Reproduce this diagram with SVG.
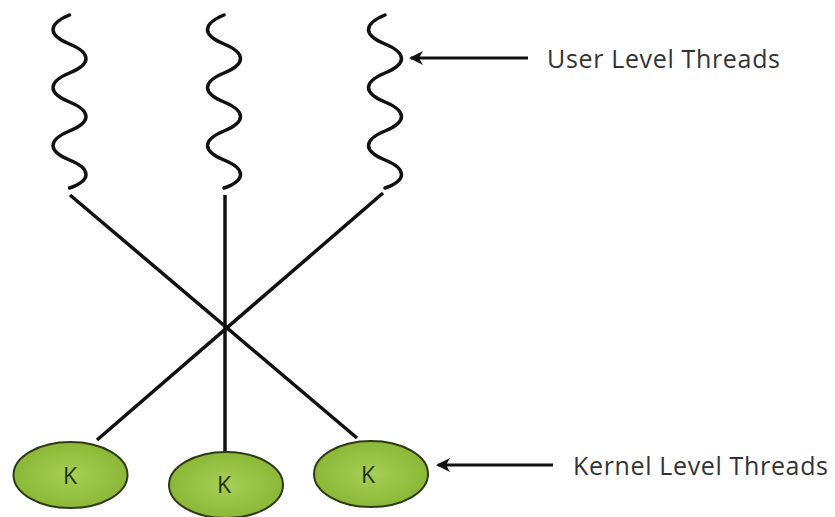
<svg xmlns="http://www.w3.org/2000/svg" xmlns:xlink="http://www.w3.org/1999/xlink" width="835" height="517" viewBox="0 0 835 517">
<style>
.wave{fill:none;stroke:#111;stroke-width:3.5;stroke-linecap:round}
.conn{stroke:#111;stroke-width:3.5;fill:none}
.arrow{stroke:#111;stroke-width:3;fill:none;marker-end:url(#ah)}
.k{fill:url(#kg);stroke:#2e3a16;stroke-width:2}
.kt{font-family:"Open Sans","DejaVu Sans",sans-serif;font-size:23px;fill:#24340c;text-anchor:middle}
.lbl{font-family:"Open Sans","DejaVu Sans",sans-serif;font-size:25px;fill:#333}
</style>
<defs>
<radialGradient id="kg" cx="50%" cy="50%" r="60%">
<stop offset="0" stop-color="#a6cf55"/>
<stop offset="1" stop-color="#86b331"/>
</radialGradient>
<path id="wave" d="M0 15 C-22 24 -22 35 0 44 S22 64 0 73 S-22 93 0 102 S22 122 0 131 S-22 151 0 160 S22 180 0 188"/>
<marker id="ah" viewBox="0 0 14 14" refX="12" refY="7" markerWidth="14" markerHeight="14" markerUnits="userSpaceOnUse" orient="auto">
<path d="M0,0 L14,7 L0,14 L4,7 z" fill="#111"/>
</marker>
</defs>
<rect width="835" height="517" fill="#fff"/>
<g id="connectors">
<line class="conn" x1="70" y1="195" x2="357" y2="438"/>
<line class="conn" x1="383" y1="193" x2="97" y2="440"/>
<line class="conn" x1="225" y1="195" x2="225" y2="452"/>
<line class="arrow" x1="528" y1="58" x2="411" y2="58"/>
<line class="arrow" x1="553" y1="465" x2="438" y2="465"/>
</g>
<g id="u1"><use href="#wave" xlink:href="#wave" class="wave" x="69.5"/></g>
<g id="u2"><use href="#wave" xlink:href="#wave" class="wave" x="224"/></g>
<g id="u3"><use href="#wave" xlink:href="#wave" class="wave" x="385"/></g>
<g id="k1"><ellipse class="k" cx="70.5" cy="475" rx="57" ry="33"/><text class="kt" x="70" y="484">K</text></g>
<g id="k2"><ellipse class="k" cx="226" cy="485" rx="57" ry="33"/><text class="kt" x="224" y="493">K</text></g>
<g id="k3"><ellipse class="k" cx="371" cy="474" rx="57" ry="33"/><text class="kt" x="368" y="483">K</text></g>
<g id="user-label"><text class="lbl" x="547" y="68" textLength="233">User Level Threads</text></g>
<g id="kernel-label"><text class="lbl" x="573" y="475" textLength="255">Kernel Level Threads</text></g>
</svg>
